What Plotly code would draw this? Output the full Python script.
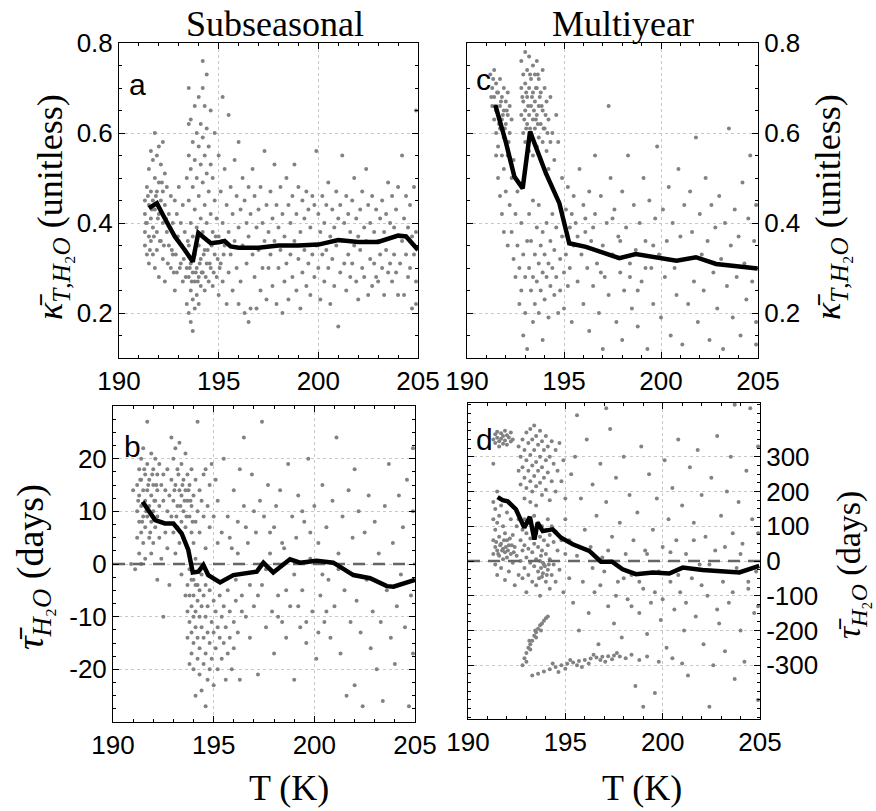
import plotly.graph_objects as go

# ---------------- data ----------------
# Panel a: subseasonal kappa (unitless) vs T (K)
a_pts = [
(191.3,0.45),(191.3,0.42),(191.3,0.38),(191.3,0.35),(191.4,0.48),(191.4,0.40),(191.4,0.33),(191.5,0.52),(191.5,0.44),(191.5,0.37),
(191.5,0.31),(191.6,0.56),(191.6,0.47),(191.6,0.41),(191.6,0.36),(191.7,0.54),(191.7,0.45),(191.7,0.39),(191.7,0.33),(191.8,0.60),
(191.8,0.50),(191.8,0.43),(191.8,0.30),(191.9,0.55),(191.9,0.47),(191.9,0.38),(191.9,0.34),(192.0,0.57),(192.0,0.49),(192.0,0.42),
(192.0,0.28),(192.1,0.53),(192.1,0.45),(192.1,0.36),(192.2,0.58),(192.2,0.47),(192.2,0.40),(192.2,0.32),(192.3,0.51),(192.3,0.44),
(192.3,0.27),(192.4,0.48),(192.4,0.38),(192.5,0.42),(192.5,0.35),(192.6,0.46),(192.6,0.30),(192.7,0.40),(192.7,0.33),(192.8,0.45),
(192.8,0.37),(192.8,0.25),(192.9,0.42),(192.9,0.29),(193.0,0.48),(193.0,0.36),(193.1,0.40),(193.1,0.31),(193.2,0.44),(193.2,0.27),
(193.3,0.38),(193.3,0.34),(193.4,0.50),(193.4,0.30),(193.4,0.22),
(191.35,0.40),(191.45,0.46),(191.55,0.34),(191.65,0.43),(191.75,0.37),(191.85,0.46),(191.95,0.41),(192.05,0.36),(192.15,0.49),(192.25,0.35),
(192.35,0.41),(192.45,0.31),(192.55,0.39),(192.65,0.34),(192.75,0.29),(192.85,0.33),(192.95,0.37),(193.05,0.30),(193.15,0.35),(193.25,0.32),
(193.35,0.28),(193.45,0.36),(193.55,0.30),(193.65,0.27),(193.75,0.33),(193.85,0.29),(193.95,0.27),(194.05,0.31),(194.15,0.29),(194.25,0.33),
(194.35,0.28),(194.45,0.34),(194.55,0.31),(194.65,0.35),(194.75,0.29),(194.85,0.37),(194.95,0.32),(195.05,0.30),(195.15,0.36),(195.25,0.33),
(193.5,0.70),(193.5,0.62),(193.5,0.55),(193.5,0.45),(193.5,0.35),(193.5,0.28),(193.5,0.20),(193.6,0.63),(193.6,0.52),(193.6,0.40),
(193.6,0.31),(193.6,0.25),(193.6,0.18),(193.7,0.58),(193.7,0.48),(193.7,0.37),(193.7,0.29),(193.7,0.23),(193.7,0.16),(193.8,0.66),
(193.8,0.54),(193.8,0.43),(193.8,0.33),(193.8,0.27),(193.8,0.21),(193.9,0.60),(193.9,0.50),(193.9,0.39),(193.9,0.30),(193.9,0.24),
(194.0,0.68),(194.0,0.57),(194.0,0.46),(194.0,0.35),(194.0,0.28),(194.0,0.22),(194.1,0.62),(194.1,0.53),(194.1,0.41),(194.1,0.32),
(194.1,0.26),(194.2,0.76),(194.2,0.70),(194.2,0.59),(194.2,0.49),(194.2,0.38),(194.2,0.29),(194.3,0.66),(194.3,0.55),(194.3,0.44),
(194.3,0.34),(194.3,0.25),(194.4,0.73),(194.4,0.61),(194.4,0.51),(194.4,0.40),(194.4,0.31),(194.5,0.57),(194.5,0.47),(194.5,0.36),
(194.5,0.27),(194.6,0.65),(194.6,0.53),(194.6,0.42),(194.6,0.30),(194.7,0.50),(194.7,0.38),(194.7,0.26),
(194.8,0.60),(194.8,0.45),(194.8,0.33),(194.9,0.41),(194.9,0.28),(195.0,0.55),(195.0,0.37),(195.0,0.24),(195.1,0.47),(195.1,0.31),
(195.2,0.68),(195.2,0.40),(195.2,0.27),(195.3,0.52),(195.3,0.35),(195.4,0.44),(195.4,0.22),(195.5,0.64),(195.5,0.38),(195.5,0.29),
(195.6,0.48),(195.6,0.33),(195.7,0.42),(195.7,0.25),(195.8,0.54),(195.8,0.36),(195.9,0.46),(195.9,0.30),(196.0,0.58),(196.0,0.39),
(196.0,0.22),(196.1,0.43),(196.1,0.27),(196.2,0.50),(196.2,0.35),(196.3,0.45),(196.3,0.20),(196.4,0.40),(196.4,0.31),(196.5,0.48),
(196.5,0.37),(196.5,0.18),(196.6,0.42),(196.6,0.21),(196.7,0.52),(196.7,0.33),(196.8,0.46),(196.8,0.28),(196.9,0.39),(196.9,0.21),
(197.0,0.43),(197.0,0.34),(197.1,0.48),(197.1,0.25),(197.2,0.40),(197.2,0.30),(197.3,0.56),(197.3,0.36),(197.4,0.44),(197.4,0.23),
(197.5,0.38),(197.5,0.30),(197.6,0.47),(197.6,0.33),(197.7,0.41),(197.7,0.26),(197.8,0.53),(197.8,0.36),(197.9,0.44),(197.9,0.22),
(198.0,0.39),(198.0,0.30),(198.1,0.48),(198.1,0.34),(198.2,0.42),(198.2,0.20),(198.3,0.37),(198.3,0.27),(198.4,0.50),(198.4,0.31),
(198.5,0.44),(198.5,0.23),(198.6,0.40),(198.6,0.33),(198.7,0.46),(198.7,0.28),(198.8,0.53),(198.8,0.36),(198.9,0.42),(198.9,0.25),
(199.0,0.48),(199.0,0.32),(199.1,0.38),(199.1,0.21),(199.2,0.45),(199.2,0.29),(199.3,0.41),(199.3,0.34),(199.4,0.47),(199.4,0.26),
(199.5,0.43),(199.5,0.31),(199.6,0.39),(199.6,0.24),(199.7,0.46),(199.7,0.33),(199.8,0.44),(199.8,0.28),(199.9,0.56),(199.9,0.35),
(200.0,0.42),(200.0,0.30),(200.1,0.38),(200.1,0.23),(200.2,0.46),(200.2,0.33),(200.3,0.40),(200.3,0.27),(200.4,0.44),(200.4,0.34),
(200.5,0.49),(200.5,0.30),(200.6,0.37),(200.6,0.22),(200.7,0.43),(200.7,0.32),(200.8,0.39),(200.8,0.26),(200.9,0.47),(200.9,0.35),
(201.0,0.41),(201.0,0.17),(201.1,0.44),(201.1,0.29),(201.2,0.55),(201.2,0.36),(201.3,0.40),(201.3,0.31),(201.4,0.46),(201.4,0.25),
(201.5,0.42),(201.5,0.33),(201.6,0.38),(201.6,0.28),(201.7,0.45),(201.7,0.31),(201.8,0.50),(201.8,0.35),(201.9,0.41),(201.9,0.27),
(202.0,0.37),(202.0,0.23),(202.1,0.43),(202.1,0.34),(202.2,0.47),(202.2,0.30),(202.3,0.39),(202.3,0.28),(202.4,0.52),(202.4,0.36),
(202.5,0.44),(202.5,0.24),(202.6,0.40),(202.6,0.32),(202.7,0.46),(202.7,0.26),(202.8,0.38),(202.8,0.31),(202.9,0.43),(202.9,0.28),
(203.0,0.36),(203.0,0.27),(203.1,0.41),(203.1,0.33),(203.2,0.45),(203.2,0.30),(203.3,0.38),(203.3,0.24),(203.4,0.42),(203.4,0.34),
(203.5,0.49),(203.5,0.29),(203.6,0.40),(203.6,0.31),(203.7,0.46),(203.7,0.27),(203.8,0.39),(203.8,0.33),(203.9,0.43),(203.9,0.29),
(204.0,0.48),(204.0,0.24),(204.1,0.37),(204.1,0.31),(204.2,0.55),(204.2,0.36),(204.3,0.41),(204.3,0.24),(204.4,0.46),(204.4,0.33),
(204.5,0.39),(204.5,0.28),(204.6,0.44),(204.6,0.30),(204.7,0.37),(204.7,0.21),(204.8,0.48),(204.8,0.33),(204.9,0.65),(204.9,0.38),
(204.9,0.27),(204.9,0.22),
]
a_line_T = [191.5, 191.9, 192.3, 192.8, 193.3, 193.7, 193.98, 194.3, 194.6, 195.0, 195.3, 195.6, 196.0, 197.0, 198.0, 199.0, 200.0, 201.0, 202.0, 203.0, 204.0, 204.4, 205.0]
a_line_k = [0.433, 0.444, 0.41, 0.37, 0.34, 0.314, 0.378, 0.365, 0.355, 0.357, 0.36, 0.348, 0.345, 0.345, 0.35, 0.35, 0.352, 0.362, 0.358, 0.358, 0.372, 0.37, 0.34]

# Panel c: multiyear kappa (unitless) vs T (K)
c_pts = [
(191.2,0.73),(191.3,0.70),(191.3,0.66),(191.4,0.74),(191.4,0.68),(191.4,0.63),(191.5,0.71),(191.5,0.65),(191.5,0.60),(191.6,0.69),
(191.6,0.64),(191.6,0.57),(191.7,0.72),(191.7,0.66),(191.7,0.61),(191.8,0.68),(191.8,0.63),(191.8,0.55),(191.9,0.70),(191.9,0.65),
(191.9,0.59),(192.0,0.67),(192.0,0.62),(192.1,0.69),(192.1,0.64),(192.2,0.66),(192.2,0.60),(192.3,0.63),
(191.25,0.68),(191.35,0.72),(191.45,0.66),(191.55,0.69),(191.65,0.62),(191.75,0.67),(191.85,0.64),(191.95,0.61),(192.05,0.65),(192.15,0.58),
(191.5,0.55),(191.6,0.50),(191.7,0.46),(191.8,0.42),(191.9,0.52),(191.9,0.38),(192.0,0.47),(192.1,0.35),(192.1,0.55),(192.2,0.44),
(192.3,0.50),(192.3,0.38),(192.4,0.32),(192.4,0.54),(192.5,0.42),(192.5,0.28),(192.6,0.47),(192.6,0.35),(192.7,0.30),(192.7,0.22),
(192.8,0.40),(192.8,0.25),(192.9,0.33),(192.9,0.15),(193.0,0.28),(193.0,0.20),(193.1,0.36),(193.1,0.12),
(192.8,0.76),(192.8,0.70),(192.8,0.64),(192.9,0.73),(192.9,0.67),(192.9,0.60),(193.0,0.78),(193.0,0.71),(193.0,0.65),(193.0,0.58),
(193.1,0.74),(193.1,0.68),(193.1,0.62),(193.2,0.77),(193.2,0.70),(193.2,0.64),(193.2,0.56),(193.3,0.72),(193.3,0.66),(193.3,0.60),
(193.4,0.75),(193.4,0.69),(193.4,0.63),(193.4,0.55),(193.5,0.73),(193.5,0.67),(193.5,0.61),(193.6,0.76),(193.6,0.70),(193.6,0.64),
(193.6,0.57),(193.7,0.72),(193.7,0.66),(193.7,0.59),(193.8,0.69),(193.8,0.62),(193.8,0.54),(193.9,0.74),(193.9,0.65),(193.9,0.58),
(194.0,0.70),(194.0,0.61),(194.1,0.67),(194.1,0.56),(194.2,0.63),(194.2,0.52),(194.3,0.68),(194.3,0.58),(194.4,0.60),(194.5,0.54),
(194.6,0.64),(194.7,0.58),
(192.85,0.68),(192.95,0.63),(193.05,0.69),(193.15,0.66),(193.25,0.61),(193.35,0.68),(193.45,0.65),(193.55,0.70),(193.65,0.62),(193.75,0.68),
(193.85,0.66),(193.95,0.61),(194.05,0.64),(194.15,0.60),(193.55,0.63),(193.25,0.73),(193.65,0.73),(193.05,0.61),
(193.2,0.42),(193.2,0.30),(193.3,0.25),(193.3,0.36),(193.4,0.45),(193.4,0.28),(193.4,0.18),(193.5,0.33),(193.5,0.22),(193.6,0.39),
(193.6,0.27),(193.7,0.31),(193.7,0.20),(193.7,0.44),(193.8,0.35),(193.8,0.25),(193.9,0.29),(193.9,0.38),(193.9,0.14),(194.0,0.33),
(194.0,0.23),(194.1,0.40),(194.1,0.28),(194.2,0.31),(194.2,0.19),(194.3,0.36),(194.3,0.26),(194.4,0.42),(194.4,0.30),(194.5,0.24),
(194.5,0.34),(194.6,0.39),(194.6,0.28),(194.7,0.20),(194.7,0.45),(194.8,0.32),(194.8,0.25),(194.9,0.50),(194.9,0.37),(195.0,0.29),
(195.0,0.21),(195.1,0.43),(195.1,0.33),(195.2,0.48),(195.2,0.26),(195.3,0.39),(195.3,0.30),(195.4,0.42),(195.4,0.18),(195.5,0.35),
(195.5,0.46),
(195.6,0.40),(195.7,0.27),(195.8,0.52),(195.9,0.33),(196.0,0.44),(196.0,0.22),(196.1,0.38),(196.2,0.30),(196.3,0.47),(196.3,0.16),
(196.4,0.36),(196.5,0.26),(196.6,0.55),(196.6,0.42),(196.7,0.31),(196.8,0.20),(196.9,0.46),(197.0,0.35),(197.0,0.12),(197.1,0.28),
(197.2,0.40),(197.3,0.66),(197.3,0.24),(197.4,0.50),(197.5,0.33),(197.6,0.43),(197.7,0.18),(197.8,0.37),(197.9,0.29),(198.0,0.47),
(198.0,0.14),(198.1,0.25),(198.2,0.39),(198.3,0.55),(198.4,0.31),(198.5,0.21),(198.6,0.44),(198.7,0.34),(198.8,0.17),(198.9,0.40),
(199.0,0.27),(199.1,0.50),(199.2,0.36),(199.3,0.12),(199.4,0.45),(199.5,0.30),(199.6,0.22),(199.7,0.41),(199.8,0.57),(199.9,0.33),
(200.0,0.19),(200.1,0.43),(200.2,0.28),(200.3,0.36),(200.4,0.48),(200.5,0.15),(200.6,0.40),(200.7,0.30),(200.8,0.24),(200.9,0.52),
(201.0,0.37),(201.1,0.13),(201.2,0.44),(201.3,0.32),(201.4,0.22),(201.5,0.47),(201.6,0.38),(201.7,0.27),(201.8,0.59),(201.9,0.18),
(202.0,0.42),(202.1,0.33),(202.2,0.25),(202.3,0.50),(202.4,0.36),(202.5,0.14),(202.6,0.44),(202.7,0.29),(202.8,0.39),(202.9,0.21),
(203.0,0.46),(203.1,0.32),(203.2,0.12),(203.3,0.40),(203.4,0.26),(203.5,0.61),(203.6,0.35),(203.7,0.19),(203.8,0.43),(203.9,0.28),
(204.0,0.37),(204.1,0.15),(204.2,0.49),(204.3,0.31),(204.4,0.23),(204.5,0.41),(204.6,0.55),(204.7,0.27),(204.8,0.36),(204.9,0.18),
(204.9,0.44),(204.9,0.13),
(195.7,0.37),(196.1,0.41),(196.5,0.39),(196.9,0.29),(197.5,0.41),(197.9,0.36),(198.4,0.28),(198.8,0.25),(199.2,0.30),(199.6,0.35),
]
c_line_T = [191.46, 192.0, 192.44, 192.87, 193.25, 193.56, 194.07, 194.76, 195.27, 196.13, 197.85, 198.7, 200.8, 201.8, 202.84, 204.98]
c_line_k = [0.662, 0.58, 0.503, 0.477, 0.603, 0.57, 0.51, 0.444, 0.355, 0.347, 0.322, 0.331, 0.316, 0.324, 0.309, 0.299]

# Panel b: subseasonal tau (days) vs T (K)
b_pts = [
(191.2,15),(191.2,10),(191.2,5),(191.3,18),(191.3,13),(191.3,8),(191.3,2),(191.4,20),(191.4,16),(191.4,11),
(191.4,6),(191.4,0),(191.5,22),(191.5,14),(191.5,9),(191.5,4),(191.6,17),(191.6,12),(191.6,7),(191.6,1),
(191.7,27),(191.7,19),(191.7,14),(191.7,9),(191.8,16),(191.8,11),(191.8,5),(191.9,21),(191.9,13),(191.9,8),
(191.9,2),(192.0,18),(192.0,15),(192.0,10),(192.0,4),(192.1,20),(192.1,12),(192.1,7),(192.2,17),(192.2,14),
(192.2,9),(192.2,-3),(192.3,19),(192.3,11),(192.3,5),(192.4,15),(192.4,8),(192.4,1),(192.5,17),(192.5,12),
(192.5,-10),(192.6,14),(192.6,6),(192.7,18),(192.7,10),(192.7,3),(192.8,13),(192.8,-4),
(191.25,12),(191.35,16),(191.45,8),(191.55,18),(191.65,10),(191.75,15),(191.85,6),(191.95,17),(192.05,12),(192.15,15),
(192.9,24),(192.9,16),(192.9,9),(193.0,20),(193.0,12),(193.0,6),(193.1,22),(193.1,15),(193.1,2),(193.2,18),
(193.2,11),(193.2,7),(193.3,23),(193.3,14),(193.3,4),(193.4,19),(193.4,13),(193.4,8),(193.4,-2),(193.5,16),
(193.5,10),(193.5,5),(193.6,21),(193.6,14),(193.6,7),(193.6,-6),(193.7,17),(193.7,12),(193.7,3),(193.8,15),
(193.8,9),(193.8,-1),(193.9,18),(193.9,11),(193.9,6),(194.0,13),(194.0,4),(194.0,-3),(194.1,16),(194.1,8),
(194.1,1),(194.2,27),(194.2,10),(194.2,-4),(194.3,14),(194.3,6),(194.4,12),(194.4,-2),(194.5,17),(194.5,9),
(194.6,18),(194.6,3),(194.7,11),(194.8,15),(194.8,7),(194.9,19),(195.0,9),(195.1,16),(195.2,4),
(193.05,14),(193.15,9),(193.25,17),(193.35,11),(193.45,15),(193.55,12),(193.65,9),(193.75,14),(193.85,12),(193.95,8),
(193.7,-4),(193.7,-9),(193.7,-14),(193.8,-6),(193.8,-11),(193.8,-19),(193.9,-3),(193.9,-8),(193.9,-13),(193.9,-17),
(194.0,-6),(194.0,-10),(194.0,-15),(194.0,-20),(194.1,-4),(194.1,-9),(194.1,-12),(194.1,-25),(194.2,-7),(194.2,-14),
(194.2,-18),(194.3,-5),(194.3,-10),(194.3,-16),(194.3,-21),(194.4,-8),(194.4,-12),(194.4,-24),(194.5,-6),(194.5,-14),
(194.5,-19),(194.6,-4),(194.6,-10),(194.6,-17),(194.6,-27),(194.7,-8),(194.7,-13),(194.7,-22),(194.8,-5),(194.8,-15),
(194.8,-20),(194.9,-11),(194.9,-18),(195.0,-7),(195.0,-13),(195.0,-23),(195.1,-9),(195.1,-16),(195.2,-12),(195.2,-20),
(195.3,-6),(195.3,-14),(195.4,-10),(195.4,-18),(195.5,-8),(195.5,-15),(195.6,-12),(195.6,-22),(195.7,-5),(195.7,-17),
(195.8,-9),(195.8,-14),(195.9,-20),(196.0,-11),(196.0,-16),(196.1,-7),(196.2,-13),(196.3,-22),
(195.2,12),(195.4,6),(195.5,20),(195.7,9),(195.9,3),(196.0,14),(196.1,-3),(196.2,8),(196.3,18),(196.4,-6),
(196.5,11),(196.5,24),(196.6,-10),(196.7,4),(196.8,-14),(196.9,17),(197.0,-8),(197.1,6),(197.2,-21),(197.3,12),
(197.4,27),(197.4,-4),(197.5,9),(197.6,-12),(197.7,15),(197.8,2),(197.9,-9),(198.0,-17),(198.0,7),(198.1,11),
(198.2,-6),(198.3,14),(198.4,-11),(198.5,3),(198.6,-14),(198.7,19),(198.8,-8),(198.9,9),(199.0,-22),(199.0,-2),
(199.1,5),(199.2,13),(199.3,-12),(199.4,-5),(199.5,8),(199.6,-15),(199.7,20),(199.8,1),(199.9,-9),(200.0,11),
(200.1,-18),(200.2,4),(200.3,-6),(200.4,15),(200.5,-11),(200.6,7),(200.7,-3),(200.8,-14),(200.9,12),(201.0,-8),
(201.1,24),(201.2,2),(201.3,-17),(201.4,9),(201.5,-5),(201.6,-25),(201.7,14),(201.8,-11),(201.9,5),(202.0,18),
(202.0,-23),(202.1,-7),(202.2,10),(202.3,-13),(202.4,-27),(202.5,6),(202.6,-3),(202.7,13),(202.8,-16),(202.9,-9),
(203.0,8),(203.1,-20),(203.2,2),(203.3,-11),(203.4,-26),(203.5,11),(203.6,-5),(203.7,19),(203.8,-14),(203.9,4),
(204.0,-19),(204.1,-8),(204.2,13),(204.3,-2),(204.4,7),(204.5,-12),(204.6,16),(204.7,-27),(204.8,-6),(204.9,10),
(204.9,22),(204.9,-17),
(190.9,0),(191.0,14),(191.1,-1),
(196.4,-9),(196.8,-4),(197.2,-6),(197.6,-1),(198.2,-10),(198.6,-5),(199.2,-8),(199.6,-11),(200.2,-13),(200.6,-9),
(195.8,5),(196.2,2),(196.6,7),(197.0,10),(197.8,6),(198.4,4),(199.4,10),(199.8,6),(200.4,-2),(201.2,-1),
]
b_line_T = [191.47, 192.09, 192.58, 193.0, 193.41, 193.74, 193.96, 194.24, 194.49, 194.73, 195.32, 195.98, 197.14, 197.47, 197.96, 198.79, 199.29, 200.12, 200.94, 201.94, 202.77, 203.6, 203.93, 205.0]
b_line_tau = [11.8, 8.35, 7.7, 7.7, 5.8, 2.66, -1.6, -1.45, -0.2, -2.1, -3.5, -2.1, -1.45, 0.25, -1.6, 0.9, 0.25, 0.63, 0.25, -2.1, -2.7, -4.2, -4.3, -3.0]

# Panel d: multiyear tau (days) vs T (K)
d_pts = [
(191.3,350),(191.4,365),(191.4,340),(191.5,372),(191.5,355),(191.6,345),(191.6,330),(191.7,368),(191.7,352),(191.8,360),
(191.8,338),(191.9,375),(191.9,347),(192.0,362),(192.0,335),(192.1,356),(192.2,344),(192.2,370),(192.3,350),
(191.3,170),(191.3,120),(191.3,60),(191.3,20),(191.4,150),(191.4,90),(191.4,40),(191.4,-10),(191.5,200),(191.5,110),
(191.5,30),(191.5,-40),(191.6,130),(191.6,70),(191.6,15),(191.7,160),(191.7,50),(191.7,-20),(191.8,100),(191.8,35),
(191.8,5),(191.9,80),(191.9,25),(191.9,-55),(192.0,140),(192.0,60),(192.0,10),(192.1,45),(192.1,-30),(192.2,120),
(192.2,20),(192.3,75),(192.3,-5),(192.4,40),(192.4,-70),(192.5,100),(192.5,15),(191.3,280),(192.6,-40),
(191.45,55),(191.55,20),(191.65,45),(191.75,30),(191.85,60),(191.95,40),(192.05,30),(192.15,65),(192.25,45),(192.35,25),
(192.6,330),(192.6,260),(192.7,300),(192.7,220),(192.8,350),(192.8,270),(192.9,320),(192.9,240),(192.9,180),(193.0,370),
(193.0,290),(193.0,210),(193.1,340),(193.1,260),(193.2,380),(193.2,305),(193.2,230),(193.2,170),(193.3,350),(193.3,275),
(193.3,200),(193.4,390),(193.4,320),(193.4,245),(193.5,360),(193.5,285),(193.5,215),(193.5,160),(193.6,335),(193.6,260),
(193.7,375),(193.7,300),(193.7,225),(193.8,345),(193.8,270),(193.8,190),(193.9,320),(193.9,240),(194.0,360),(194.0,290),
(194.0,205),(194.1,330),(194.1,255),(194.2,300),(194.2,175),(194.3,345),(194.3,230),(194.4,280),(194.5,320),(194.5,200),
(194.6,260),(194.7,340),(194.8,230),(194.9,290),(195.0,180),
(192.6,120),(192.7,60),(192.7,0),(192.8,90),(192.8,30),(192.8,-50),(192.9,120),(192.9,45),(192.9,-20),(193.0,80),
(193.0,10),(193.0,-90),(193.1,110),(193.1,35),(193.1,-40),(193.2,65),(193.2,-5),(193.3,95),(193.3,25),(193.3,-60),
(193.4,130),(193.4,50),(193.4,-15),(193.5,80),(193.5,5),(193.5,-70),(193.6,110),(193.6,40),(193.6,-30),(193.7,70),
(193.7,0),(193.7,-100),(193.8,100),(193.8,30),(193.8,-45),(193.9,60),(193.9,-10),(194.0,90),(194.0,20),(194.0,-60),
(194.1,120),(194.1,45),(194.1,-25),(194.2,75),(194.2,5),(194.2,-80),(194.3,100),(194.3,-40),(194.4,55),(194.4,-10),
(194.5,85),(194.5,-60),(194.6,30),(194.7,-25),(194.8,60),(194.9,-90),(195.0,20),(195.2,-50),
(193.75,-20),(193.85,-35),(193.95,-15),(194.05,-40),(193.75,15),(193.85,-5),(194.15,-10),(193.65,-50),
(192.9,-280),(193.0,-265),(193.1,-250),(193.2,-240),(193.3,-230),(193.4,-215),(193.5,-205),(193.6,-195),(193.7,-185),(193.8,-180),
(193.9,-172),(194.0,-165),(194.1,-160),(193.0,-290),(193.2,-255),(193.5,-220),(192.8,-300),(193.15,-230),(193.45,-200),(193.75,-200),
(193.3,-330),(193.6,-325),(193.9,-318),(194.2,-312),(194.5,-305),(194.8,-300),(195.1,-296),(195.4,-292),(195.7,-288),(196.0,-285),
(196.3,-281),(196.6,-278),(196.9,-276),(197.2,-274),(197.5,-272),(197.8,-275),(198.1,-280),(195.0,-310),(195.6,-300),(196.2,-295),
(196.8,-285),(197.4,-283),(198.4,-270),(198.8,-285),(199.2,-275),(199.8,-290),(200.5,-280),(201.0,-295),
(195.25,-285),(195.85,-305),(196.45,-270),(197.05,-290),(197.65,-265),(194.35,-295),(194.65,-320),
(195.0,120),(195.2,60),(195.3,250),(195.4,-120),(195.5,300),(195.6,15),(195.7,-200),(195.8,180),(195.9,-60),(196.0,90),
(196.1,350),(196.2,-150),(196.3,40),(196.4,220),(196.5,-90),(196.6,130),(196.7,-240),(196.8,280),(196.9,10),(197.0,-30),
(197.1,170),(197.2,-130),(197.3,380),(197.4,70),(197.5,-180),(197.6,240),(197.7,-60),(197.8,110),(197.9,-220),(198.0,300),
(198.1,20),(198.2,-110),(198.3,190),(198.4,-40),(198.5,60),(198.6,-360),(198.7,140),(198.8,-150),(198.9,330),(199.0,-80),
(199.0,-420),(199.1,30),(199.2,-210),(199.3,250),(199.4,-120),(199.5,90),(199.6,-380),(199.7,180),(199.8,-30),(199.9,-170),
(200.0,40),(200.1,290),(200.2,-250),(200.3,120),(200.4,-60),(200.5,210),(200.6,-140),(200.7,60),(200.8,350),(200.9,-90),
(201.0,160),(201.1,-200),(201.2,20),(201.3,-330),(201.4,270),(201.5,-50),(201.6,110),(201.7,-160),(201.8,320),(201.9,-10),
(202.0,190),(202.1,-240),(202.2,70),(202.3,-100),(202.4,-420),(202.5,240),(202.6,-300),(202.7,30),(202.8,360),(202.9,-180),
(203.0,130),(203.1,-60),(203.2,-260),(203.3,200),(203.4,-120),(203.5,300),(203.6,80),(203.7,-340),(203.8,-20),(203.9,170),
(204.0,-200),(204.1,50),(204.2,-290),(204.3,260),(204.4,-80),(204.5,440),(204.6,120),(204.7,-150),(204.8,-30),(204.9,-400),
(204.9,330),(204.9,-130),(204.9,80),
(196.4,-20),(196.8,-70),(197.2,30),(197.6,-100),(198.0,-50),(198.4,-130),(198.8,-60),(199.2,20),(199.6,-90),(200.0,-110),
(200.4,25),(200.8,-40),(201.2,-120),(201.6,60),(202.0,-70),(202.4,-10),(202.8,-140),(203.2,40),(203.6,-90),(204.0,20),
(204.4,-60),(195.6,420),(197.1,440),(203.7,450),
]
d_line_T = [191.52, 191.78, 192.04, 192.46, 192.89, 193.18, 193.41, 193.58, 193.84, 194.35, 194.78, 195.38, 196.23, 196.83, 197.4, 197.94, 198.63, 199.5, 200.34, 201.03, 202.05, 203.43, 203.94, 204.96]
d_line_tau = [184, 175, 172, 149, 96, 127, 62, 110, 86, 91, 67, 48, 29, -2, -2, -24, -38, -33, -36, -19, -26, -30, -33, -14]

x_ticks = [190, 195, 200, 205]
kappa_ticks = [0.2, 0.4, 0.6, 0.8]
tau_sub_ticks = [-20, -10, 0, 10, 20]
tau_multi_ticks = [-300, -200, -100, 0, 100, 200, 300]

# ---------------- figure ----------------
W, H = 876, 811
def px(x):
    return x / W
def py(y):
    return 1 - y / H

DOT = "#828282"
SANS = "Liberation Sans, Arial, sans-serif"
SERIF = "Liberation Serif, Times New Roman, serif"

fig = go.Figure()

def add_panel(pts, lT, lv, xa, ya, zero):
    T = [p[0] for p in pts]
    v = [p[1] for p in pts]
    fig.add_trace(go.Scatter(x=T, y=v, mode="markers", xaxis=xa, yaxis=ya,
                             marker=dict(size=4, color=DOT, line=dict(width=0)),
                             showlegend=False, hoverinfo="skip"))
    if zero:
        fig.add_trace(go.Scatter(x=[190, 205], y=[0, 0], mode="lines", xaxis=xa, yaxis=ya,
                                 line=dict(color="#666666", width=2.5, dash="12px,8px"),
                                 showlegend=False, hoverinfo="skip"))
    fig.add_trace(go.Scatter(x=lT, y=lv, mode="lines", xaxis=xa, yaxis=ya,
                             line=dict(color="black", width=4.5),
                             showlegend=False, hoverinfo="skip"))

add_panel(a_pts, a_line_T, a_line_k, "x", "y", False)
add_panel(c_pts, c_line_T, c_line_k, "x2", "y2", False)
add_panel(b_pts, b_line_T, b_line_tau, "x3", "y3", True)
add_panel(d_pts, d_line_T, d_line_tau, "x4", "y4", True)

common = dict(showline=True, linecolor="black", linewidth=1, mirror="allticks",
              ticks="inside", ticklen=6, tickcolor="black", tickwidth=1,
              showgrid=True, gridcolor="#c8c8c8", griddash="dot", gridwidth=1,
              zeroline=False, automargin=False,
              tickfont=dict(family=SANS, size=26, color="black"))

def xax(dom, anchor):
    return dict(common, domain=dom, anchor=anchor, range=[190, 205],
                tickvals=x_ticks, ticktext=[str(t) for t in x_ticks],
                minor=dict(ticks="inside", ticklen=3, dtick=1, tickcolor="black", showgrid=False))

def yax(dom, anchor, rng, tv, tt, side, minor_dt):
    return dict(common, domain=dom, anchor=anchor, range=rng, side=side,
                tickvals=tv, ticktext=tt,
                minor=dict(ticks="inside", ticklen=3, dtick=minor_dt, tickcolor="black", showgrid=False))

fig.update_layout(
    width=W, height=H,
    margin=dict(l=0, r=0, t=0, b=0, autoexpand=False),
    paper_bgcolor="white", plot_bgcolor="white",
    xaxis=xax([px(119), px(418)], "y"),
    yaxis=yax([py(358), py(43)], "x", [0.1, 0.8], kappa_ticks, ["0.2", "0.4", "0.6", "0.8"], "left", 0.05),
    xaxis2=xax([px(467), px(758)], "y2"),
    yaxis2=yax([py(358), py(43)], "x2", [0.1, 0.8], kappa_ticks, ["0.2", "0.4", "0.6", "0.8"], "right", 0.05),
    xaxis3=xax([px(113), px(415)], "y3"),
    yaxis3=yax([py(722), py(406)], "x3", [-30, 30], tau_sub_ticks, [str(t) for t in tau_sub_ticks], "left", 2.5),
    xaxis4=xax([px(468), px(760)], "y4"),
    yaxis4=yax([py(719), py(403)], "x4", [-455, 455], tau_multi_ticks, [str(t) for t in tau_multi_ticks], "right", 25),
)

ann = []
def text(x, y, s, size, family, angle=0, xanchor="center"):
    ann.append(dict(x=px(x), y=py(y), xref="paper", yref="paper", text=s, showarrow=False,
                    textangle=angle, xanchor=xanchor, yanchor="middle",
                    font=dict(family=family, size=size, color="black")))

text(275, 24, "Subseasonal", 36, SERIF)
text(623, 24, "Multiyear", 36, SERIF)
text(289, 788, "T (K)", 36, SERIF)
text(642, 788, "T (K)", 36, SERIF)
kappa_lbl = "<i>κ̄</i><sub><i>T</i>,<i>H</i>₂<i>O</i></sub> (unitless)"
tau_lbl = "<i>τ̄</i><sub><i>H</i>₂<i>O</i></sub> (days)"
text(52, 207, kappa_lbl, 36, SERIF, -90)
text(830, 207, kappa_lbl, 36, SERIF, -90)
text(33, 567, tau_lbl, 38, SERIF, -90)
text(851, 565, tau_lbl, 34, SERIF, -90)
text(127, 84, "a", 30, SANS, 0, "left")
text(122, 446, "b", 30, SANS, 0, "left")
text(474, 80, "c", 30, SANS, 0, "left")
text(474, 439, "d", 30, SANS, 0, "left")
fig.update_layout(annotations=ann)

fig.write_html("out.html")
